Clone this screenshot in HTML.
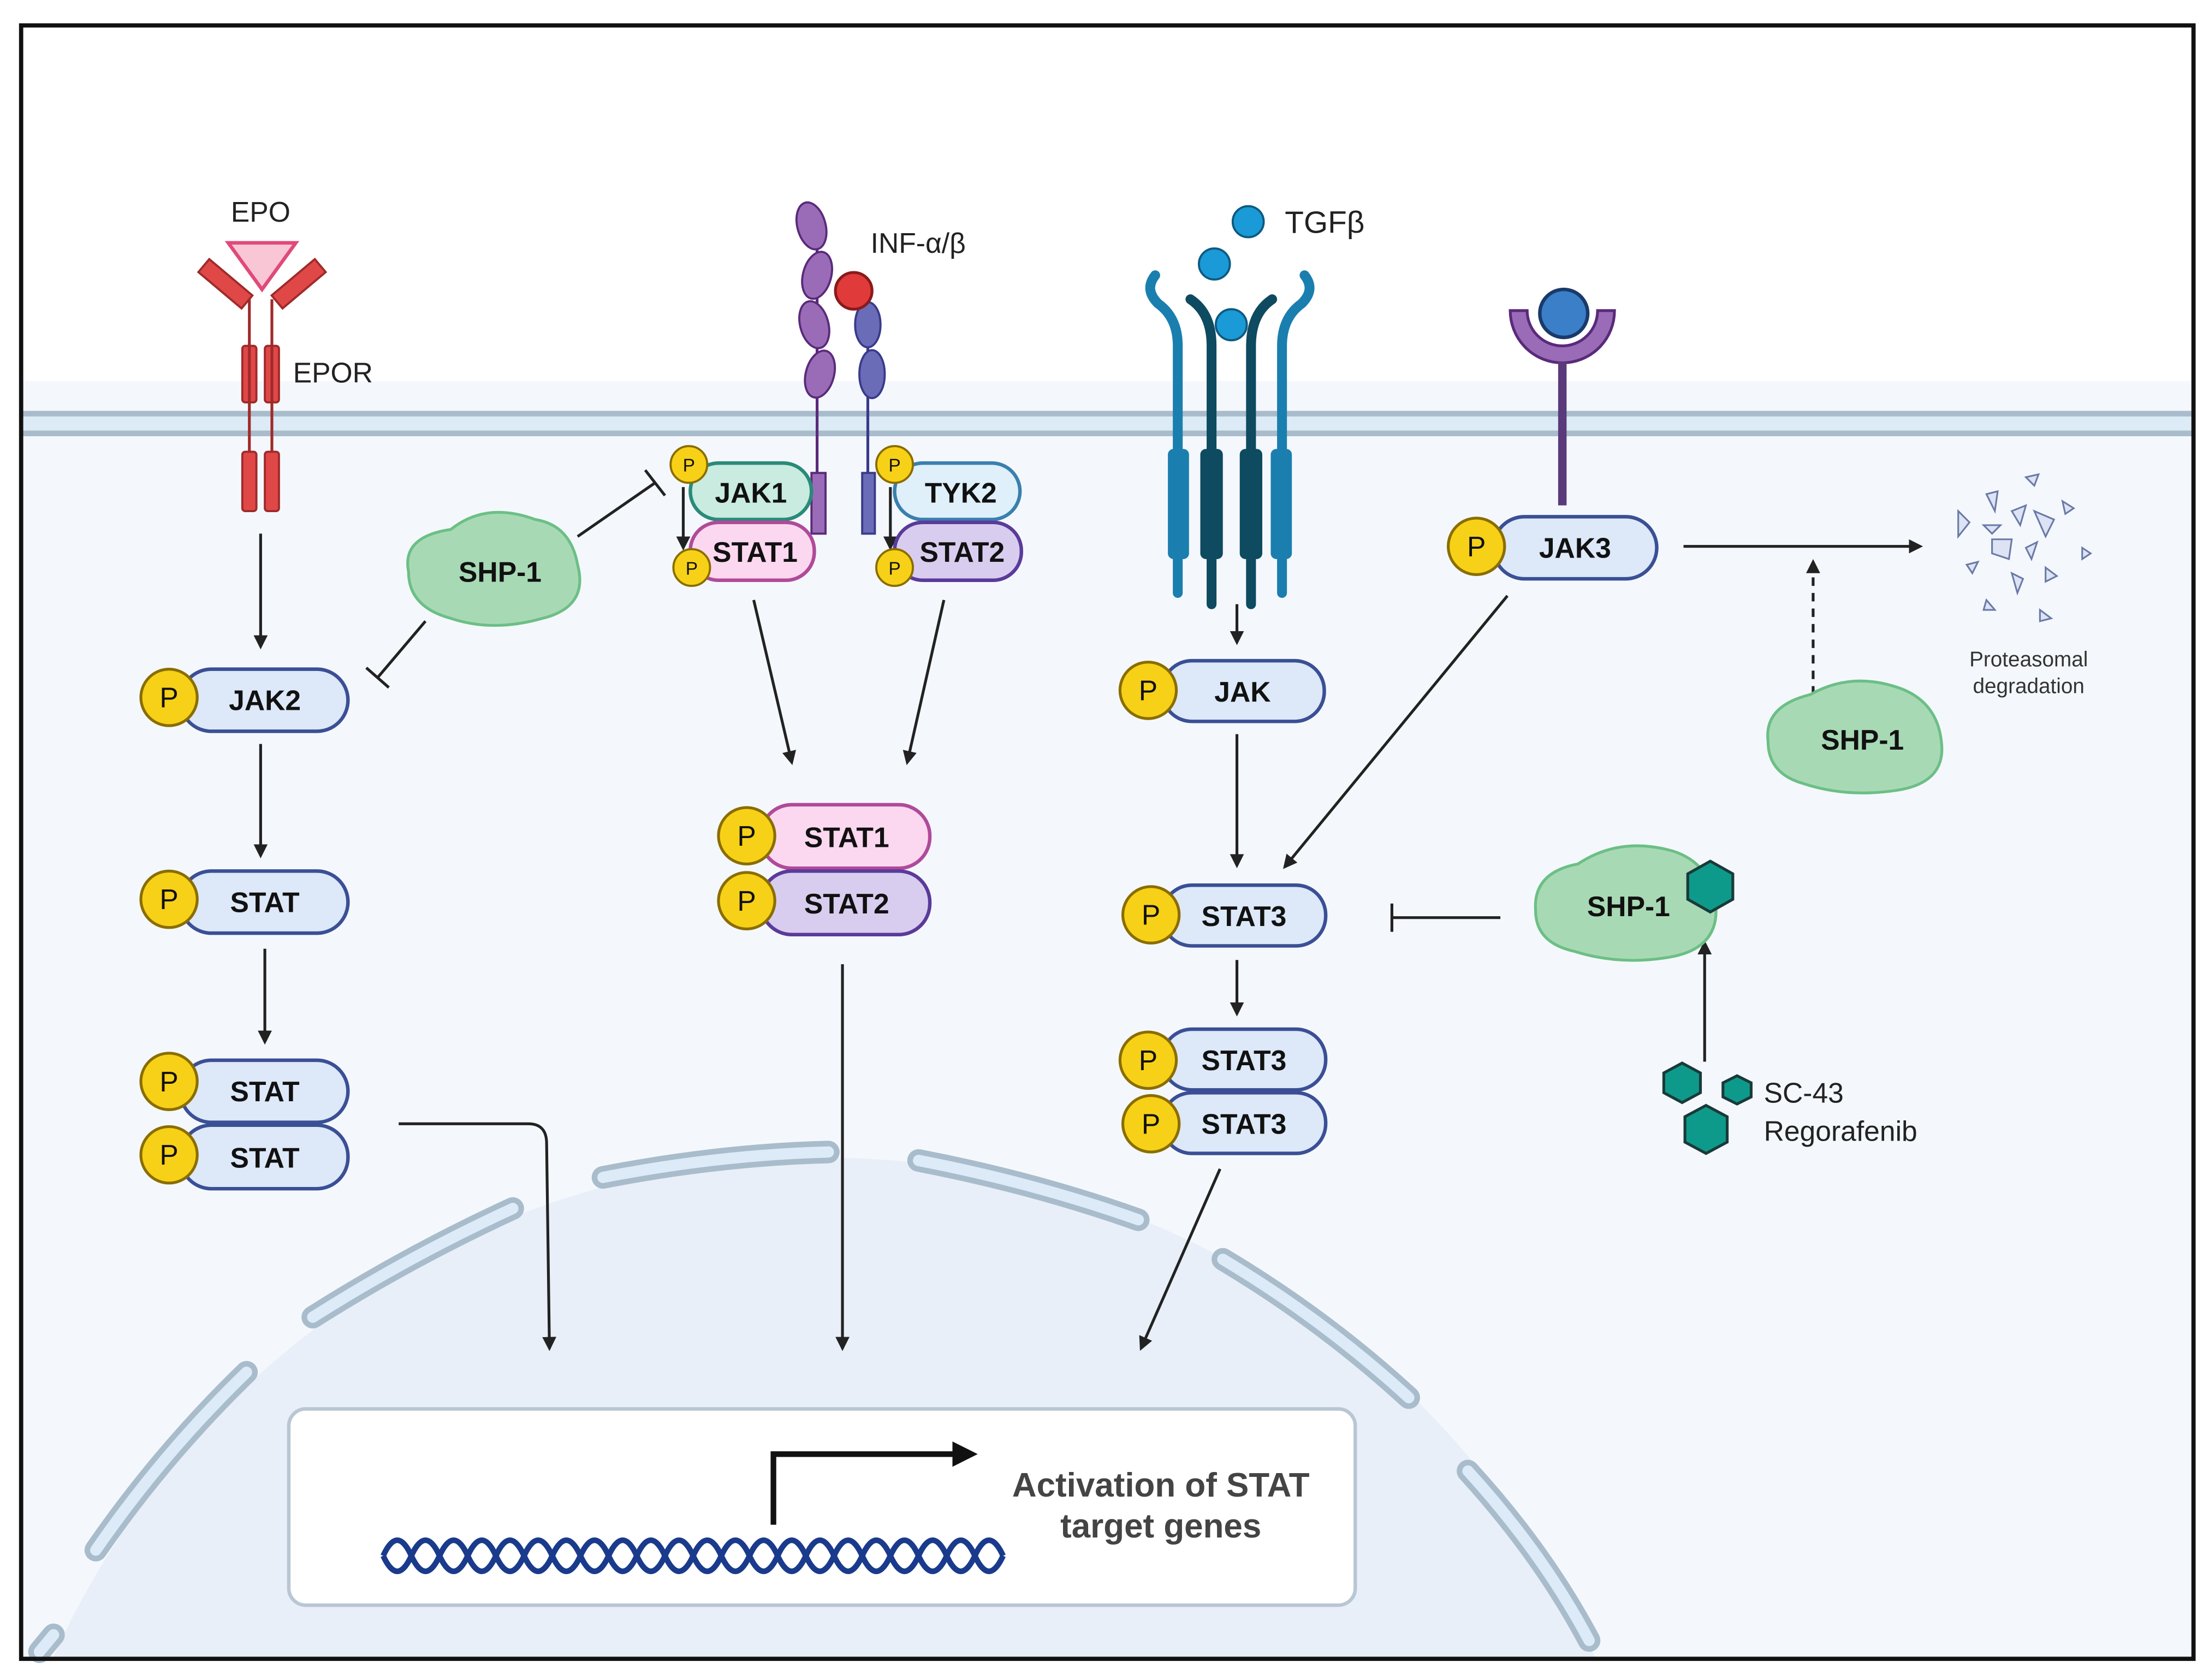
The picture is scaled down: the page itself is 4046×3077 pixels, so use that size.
<!DOCTYPE html>
<html><head><meta charset="utf-8"><style>html,body{margin:0;padding:0;background:#fff;width:4046px;height:3077px;overflow:hidden}svg{display:block}text{font-family:"Liberation Sans",sans-serif}</style></head>
<body>
<svg width="4046" height="3077" viewBox="0 0 1568 1190" preserveAspectRatio="none" xmlns="http://www.w3.org/2000/svg">
<defs>
<marker id="ah" markerWidth="10" markerHeight="10" refX="8" refY="5" orient="auto" markerUnits="userSpaceOnUse"><path d="M0,0 L10,5 L0,10 Z" fill="#222"/></marker>
<marker id="ahb" markerWidth="18" markerHeight="18" refX="14" refY="9" orient="auto" markerUnits="userSpaceOnUse"><path d="M0,0 L18,9 L0,18 Z" fill="#111"/></marker>
</defs>
<rect x="0" y="0" width="1568" height="1190" fill="#fff"/>
<rect x="16" y="270" width="1540" height="905" fill="#f4f8fc"/>
<rect x="16" y="293" width="1540" height="14" fill="#dcebf6"/>
<line x1="16" y1="293" x2="1556" y2="293" stroke="#a9bccb" stroke-width="4"/>
<line x1="16" y1="307" x2="1556" y2="307" stroke="#a9bccb" stroke-width="4"/>
<path d="M37.3,1175 A600,600 0 0 1 1132.7,1175 Z" fill="#e8eff8"/>
<g stroke-linecap="round" fill="none">
<g stroke="#a9bccb" stroke-width="16">
<path d="M222,933 Q290,890 364,856"/><path d="M428,834 Q510,818 588,816"/><path d="M652,822 Q735,838 808,864"/><path d="M868,892 Q940,935 1000,990"/><path d="M1042,1042 Q1095,1100 1128,1162"/><path d="M68,1098 Q115,1030 175,972"/><path d="M28,1170 L38,1158"/>
</g>
<g stroke="#dcebf7" stroke-width="8">
<path d="M222,933 Q290,890 364,856"/><path d="M428,834 Q510,818 588,816"/><path d="M652,822 Q735,838 808,864"/><path d="M868,892 Q940,935 1000,990"/><path d="M1042,1042 Q1095,1100 1128,1162"/><path d="M68,1098 Q115,1030 175,972"/><path d="M28,1170 L38,1158"/>
</g></g>
<rect x="15" y="18" width="1542" height="1157" fill="none" stroke="#111" stroke-width="3"/>
<rect x="205" y="998" width="757" height="139" rx="12" fill="#fff" stroke="#b9c6d3" stroke-width="2.5"/>
<path d="M272,1102 q10,-22 20,0 t20,0 t20,0 t20,0 t20,0 t20,0 t20,0 t20,0 t20,0 t20,0 t20,0 t20,0 t20,0 t20,0 t20,0 t20,0 t20,0 t20,0 t20,0 t20,0 t20,0 t20,0" fill="none" stroke="#1a3a8c" stroke-width="4"/>
<path d="M272,1102 q10,22 20,0 t20,0 t20,0 t20,0 t20,0 t20,0 t20,0 t20,0 t20,0 t20,0 t20,0 t20,0 t20,0 t20,0 t20,0 t20,0 t20,0 t20,0 t20,0 t20,0 t20,0 t20,0" fill="none" stroke="#1a3a8c" stroke-width="4"/>
<path d="M549,1080 L549,1030 L690,1030" fill="none" stroke="#111" stroke-width="4" marker-end="url(#ahb)"/>
<text x="824" y="1060" font-size="24" font-weight="bold" fill="#444" text-anchor="middle">Activation of STAT</text>
<text x="824" y="1089" font-size="24" font-weight="bold" fill="#444" text-anchor="middle">target genes</text>

<g stroke="#222" stroke-width="2" fill="none" marker-end="url(#ah)">
<line x1="185" y1="378" x2="185" y2="458"/><line x1="185" y1="527" x2="185" y2="606"/><line x1="188" y1="672" x2="188" y2="738"/>
<path d="M283,796 L375,796 Q388,796 388,810 L390,955"/>
<line x1="535" y1="425" x2="562" y2="540"/><line x1="670" y1="425" x2="644" y2="540"/>
<line x1="598" y1="683" x2="598" y2="955"/>
<line x1="878" y1="428" x2="878" y2="455"/><line x1="878" y1="520" x2="878" y2="613"/><line x1="878" y1="680" x2="878" y2="718"/>
<line x1="866" y1="828" x2="810" y2="955"/>
<line x1="1195" y1="387" x2="1363" y2="387"/>
<line x1="1287" y1="492" x2="1287" y2="398" stroke-dasharray="6,5"/>
<line x1="1070" y1="422" x2="912" y2="614"/>
<line x1="1210" y1="752" x2="1210" y2="668"/>
<line x1="485" y1="345" x2="485" y2="388"/><line x1="632" y1="345" x2="632" y2="388"/>
</g>
<g stroke="#222" stroke-width="2">
<line x1="410" y1="380" x2="465" y2="342"/><line x1="458" y1="333" x2="472" y2="351"/>
<line x1="302" y1="440" x2="268" y2="480"/><line x1="260" y1="473" x2="276" y2="487"/>
<line x1="1065" y1="650" x2="988" y2="650"/><line x1="988" y1="640" x2="988" y2="660"/>
</g>

<polygon points="162,172 210,172 186,205" fill="#f9c6d6" stroke="#e04a7a" stroke-width="2.5"/>
<g fill="#e04848" stroke="#a02a2a" stroke-width="1.5">
<rect x="140" y="195" width="40" height="12" transform="rotate(40 160 201)"/>
<rect x="192" y="195" width="40" height="12" transform="rotate(-40 212 201)"/>
<rect x="172" y="245" width="10" height="40" rx="2"/><rect x="188" y="245" width="10" height="40" rx="2"/>
<rect x="172" y="320" width="10" height="42" rx="2"/><rect x="188" y="320" width="10" height="42" rx="2"/>
</g>
<g stroke="#a02a2a" stroke-width="2"><line x1="177" y1="212" x2="177" y2="320"/><line x1="193" y1="212" x2="193" y2="320"/></g>
<text x="185" y="157" font-size="20" fill="#222" text-anchor="middle">EPO</text>
<text x="208" y="271" font-size="20" fill="#222">EPOR</text>

<g stroke="#5a2a7a" stroke-width="1.5">
<line x1="580" y1="150" x2="580" y2="378" stroke="#5a2a7a" stroke-width="2"/>
<line x1="616" y1="210" x2="616" y2="378" stroke="#3a3a8a" stroke-width="2"/>
<g fill="#9a6cb8"><ellipse cx="576" cy="160" rx="10" ry="17" transform="rotate(-15 576 160)"/><ellipse cx="580" cy="195" rx="10" ry="17" transform="rotate(15 580 195)"/><ellipse cx="578" cy="230" rx="10" ry="17" transform="rotate(-15 578 230)"/><ellipse cx="582" cy="265" rx="10" ry="17" transform="rotate(15 582 265)"/></g>
<g fill="#6a6cb8" stroke="#3a3a8a"><ellipse cx="616" cy="230" rx="9" ry="16"/><ellipse cx="619" cy="265" rx="9" ry="17"/></g>
<rect x="576" y="335" width="10" height="43" fill="#9a6cb8"/><rect x="612" y="335" width="9" height="43" fill="#6a6cb8" stroke="#3a3a8a"/>
</g>
<circle cx="606" cy="206" r="13" fill="#e03a3a" stroke="#8a1a1a" stroke-width="2"/>
<text x="618" y="179" font-size="20" fill="#222">INF-α/β</text>
<rect x="490" y="328" width="86" height="40" rx="20" fill="#c9ebe0" stroke="#2a8a78" stroke-width="2.5"/>
<text x="533" y="356" font-size="20" font-weight="bold" fill="#111" text-anchor="middle">JAK1</text>
<rect x="490" y="370" width="88" height="41" rx="20" fill="#fbd8ef" stroke="#b04a9a" stroke-width="2.5"/>
<text x="536" y="398" font-size="20" font-weight="bold" fill="#111" text-anchor="middle">STAT1</text>
<rect x="635" y="328" width="89" height="40" rx="20" fill="#dff0fb" stroke="#3a7fae" stroke-width="2.5"/>
<text x="682" y="356" font-size="20" font-weight="bold" fill="#111" text-anchor="middle">TYK2</text>
<rect x="635" y="370" width="90" height="41" rx="20" fill="#d9cdef" stroke="#5a3a9a" stroke-width="2.5"/>
<text x="683" y="398" font-size="20" font-weight="bold" fill="#111" text-anchor="middle">STAT2</text>
<g fill="#f7d117" stroke="#8a6d00" stroke-width="1.5">
<circle cx="489" cy="329" r="13"/><circle cx="491" cy="402" r="13"/><circle cx="635" cy="329" r="13"/><circle cx="635" cy="402" r="13"/></g>
<g font-size="13" fill="#111" text-anchor="middle"><text x="489" y="334">P</text><text x="491" y="407">P</text><text x="635" y="334">P</text><text x="635" y="407">P</text></g>

<g fill="none" stroke-linecap="round">
<path d="M836,420 L836,245 Q836,225 822,215 Q812,205 820,195" stroke="#1a7fae" stroke-width="7"/>
<path d="M910,420 L910,245 Q910,225 924,215 Q934,205 926,195" stroke="#1a7fae" stroke-width="7"/>
<path d="M860,428 L860,245 Q860,222 845,212" stroke="#0e4a60" stroke-width="7"/>
<path d="M888,428 L888,245 Q888,222 903,212" stroke="#0e4a60" stroke-width="7"/>
</g>
<rect x="829" y="318" width="15" height="78" rx="4" fill="#1a7fae"/><rect x="902" y="318" width="15" height="78" rx="4" fill="#1a7fae"/>
<rect x="852" y="318" width="16" height="78" rx="4" fill="#0e4a60"/><rect x="880" y="318" width="16" height="78" rx="4" fill="#0e4a60"/>
<g fill="#1a9ad6" stroke="#0e5a80" stroke-width="1.5"><circle cx="886" cy="157" r="11"/><circle cx="862" cy="187" r="11"/><circle cx="874" cy="230" r="11"/></g>
<text x="912" y="165" font-size="22" fill="#222">TGFβ</text>

<path d="M1072,220 A37,37 0 0 0 1146,220 L1134,220 A25,25 0 0 1 1084,220 Z" fill="#9a6cb8" stroke="#5a2a7a" stroke-width="2"/>
<line x1="1109" y1="256" x2="1109" y2="358" stroke="#5a3a7a" stroke-width="6"/>
<circle cx="1110" cy="222" r="17" fill="#3a7fc8" stroke="#1a3a6a" stroke-width="2.5"/>

<g stroke="#3a4f95" stroke-width="2.5" fill="#dde8f8">
<rect x="128" y="474" width="119" height="44" rx="22"/><rect x="128" y="617" width="119" height="44" rx="22"/>
<rect x="128" y="751" width="119" height="44" rx="22"/><rect x="128" y="797" width="119" height="45" rx="22"/>
<rect x="825" y="468" width="115" height="43" rx="21"/><rect x="825" y="627" width="116" height="43" rx="21"/>
<rect x="825" y="729" width="116" height="43" rx="21"/><rect x="825" y="774" width="116" height="43" rx="21"/>
<rect x="1060" y="366" width="116" height="44" rx="22"/>
</g>
<rect x="540" y="570" width="120" height="45" rx="22" fill="#fbd8ef" stroke="#b04a9a" stroke-width="2.5"/>
<rect x="540" y="617" width="120" height="45" rx="22" fill="#d9cdef" stroke="#5a3a9a" stroke-width="2.5"/>
<g font-size="20" font-weight="bold" fill="#111" text-anchor="middle">
<text x="188" y="503">JAK2</text><text x="188" y="646">STAT</text><text x="188" y="780">STAT</text><text x="188" y="827">STAT</text>
<text x="882" y="497">JAK</text><text x="883" y="656">STAT3</text><text x="883" y="758">STAT3</text><text x="883" y="803">STAT3</text>
<text x="1118" y="395">JAK3</text><text x="601" y="600">STAT1</text><text x="601" y="647">STAT2</text>
</g>
<g fill="#f7d117" stroke="#8a6d00" stroke-width="2">
<circle cx="120" cy="494" r="20"/><circle cx="120" cy="637" r="20"/><circle cx="120" cy="766" r="20"/><circle cx="120" cy="818" r="20"/>
<circle cx="815" cy="489" r="20"/><circle cx="817" cy="648" r="20"/><circle cx="815" cy="751" r="20"/><circle cx="817" cy="796" r="20"/>
<circle cx="1048" cy="387" r="20"/><circle cx="530" cy="592" r="20"/><circle cx="530" cy="638" r="20"/>
</g>
<g font-size="20" fill="#111" text-anchor="middle">
<text x="120" y="501">P</text><text x="120" y="644">P</text><text x="120" y="773">P</text><text x="120" y="825">P</text>
<text x="815" y="496">P</text><text x="817" y="655">P</text><text x="815" y="758">P</text><text x="817" y="803">P</text>
<text x="1048" y="394">P</text><text x="530" y="599">P</text><text x="530" y="645">P</text>
</g>

<g fill="#a8d9b5" stroke="#6cbf85" stroke-width="2">
<path d="M290,405 Q285,380 320,375 Q345,355 380,368 Q405,372 410,400 Q418,430 385,438 Q350,448 320,438 Q290,430 290,405 Z"/>
<path d="M1255,525 Q1252,500 1285,492 Q1315,475 1350,488 Q1375,498 1378,525 Q1382,555 1345,560 Q1310,565 1280,555 Q1255,548 1255,525 Z"/>
<path d="M1090,645 Q1088,618 1120,612 Q1150,592 1188,603 Q1215,612 1218,642 Q1220,672 1185,678 Q1150,684 1118,674 Q1090,668 1090,645 Z"/>
</g>
<g font-size="20" font-weight="bold" fill="#111" text-anchor="middle"><text x="355" y="412">SHP-1</text><text x="1322" y="531">SHP-1</text><text x="1156" y="649">SHP-1</text></g>
<g fill="#0e9a8a" stroke="#1a3a3a" stroke-width="2">
<polygon points="1214,610 1230,619 1230,637 1214,646 1198,637 1198,619"/>
<polygon points="1194,753 1207,760 1207,774 1194,781 1181,774 1181,760"/>
<polygon points="1233,762 1243,767 1243,777 1233,782 1223,777 1223,767"/>
<polygon points="1211,783 1226,791 1226,809 1211,817 1196,809 1196,791"/>
</g>
<text x="1252" y="781" font-size="20" fill="#222">SC-43</text>
<text x="1252" y="808" font-size="20" fill="#222">Regorafenib</text>

<g fill="#dde3f3" stroke="#6a7aa8" stroke-width="1.2">
<polygon points="1438,338 1447,336 1444,344"/><polygon points="1410,350 1418,348 1416,362"/><polygon points="1390,362 1398,370 1390,380"/>
<polygon points="1428,362 1438,358 1434,372"/><polygon points="1444,362 1458,368 1452,380"/><polygon points="1464,355 1472,360 1466,364"/>
<polygon points="1408,372 1420,372 1414,378"/><polygon points="1414,382 1428,382 1426,396 1414,392"/><polygon points="1438,388 1446,384 1442,396"/>
<polygon points="1396,400 1404,398 1400,406"/><polygon points="1452,402 1460,408 1452,412"/><polygon points="1428,406 1436,410 1432,420"/>
<polygon points="1478,388 1484,392 1478,396"/><polygon points="1410,425 1416,432 1408,432"/><polygon points="1448,432 1456,438 1448,440"/>
</g>
<text x="1440" y="472" font-size="15" fill="#333" text-anchor="middle">Proteasomal</text>
<text x="1440" y="491" font-size="15" fill="#333" text-anchor="middle">degradation</text>
</svg>
</body></html>
